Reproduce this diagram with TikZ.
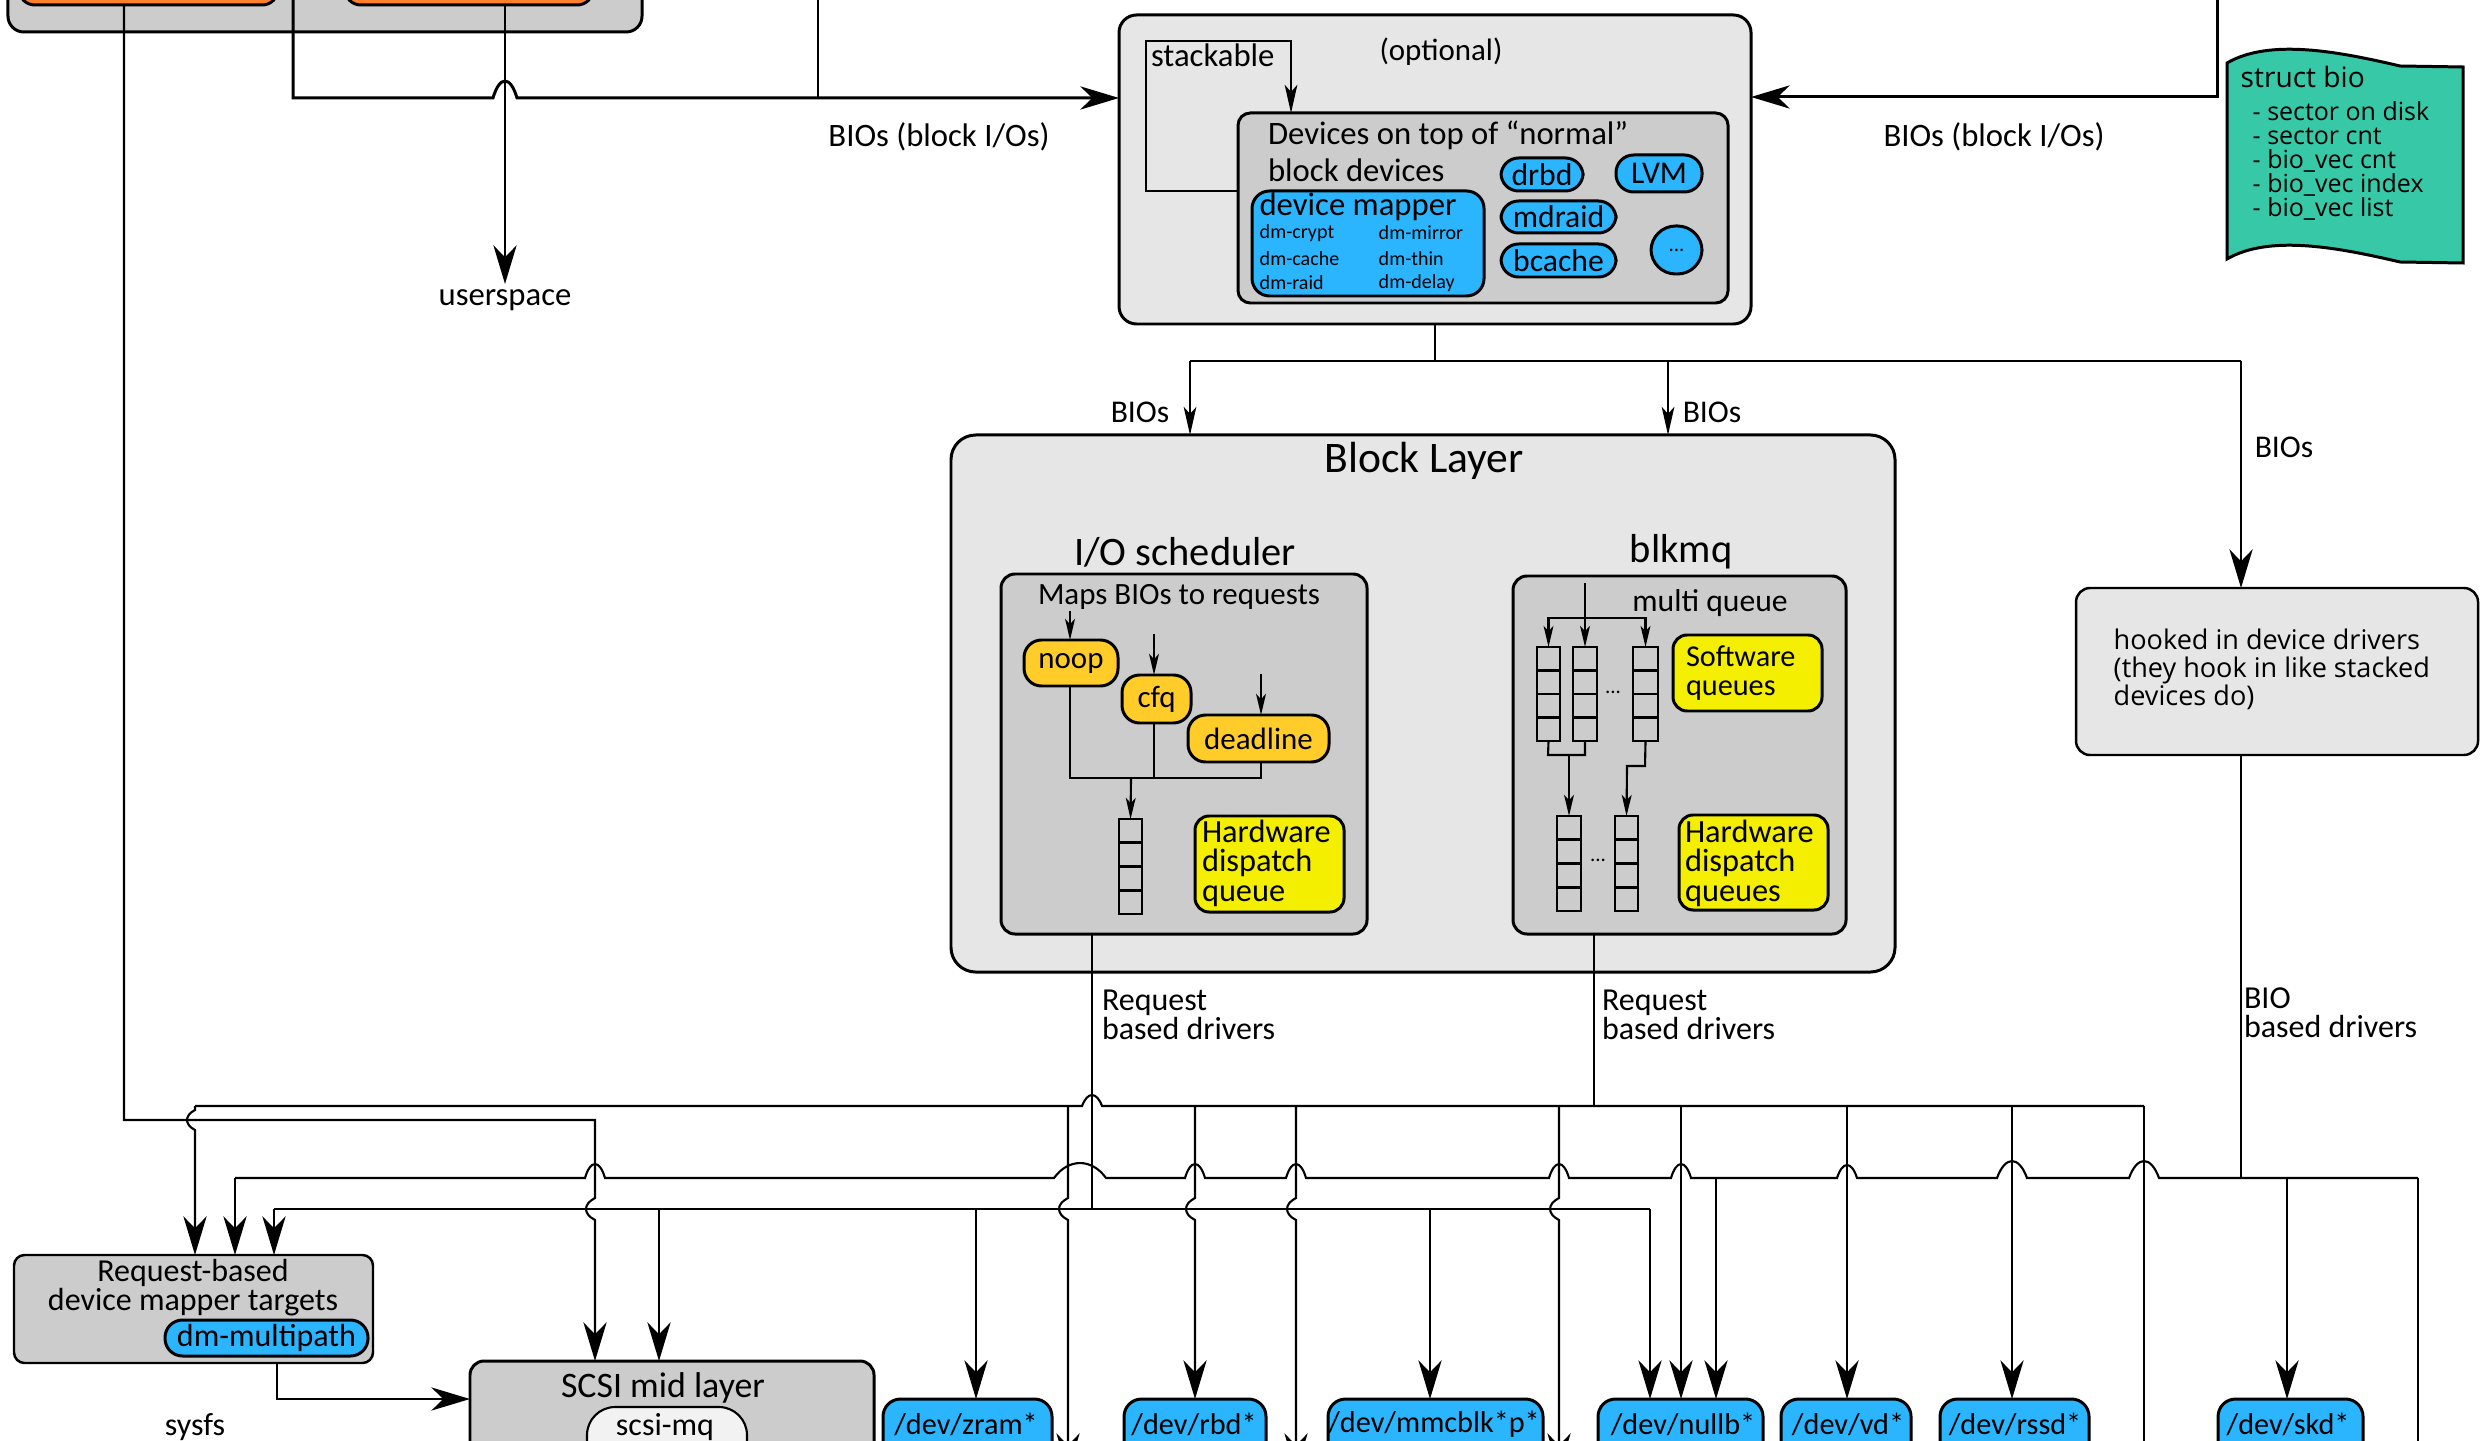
\documentclass[tikz,border=0pt]{standalone}
\usepackage{fontspec}
\setmainfont{Carlito}
\newfontfamily\widefont{Open Sans}
\usetikzlibrary{arrows.meta,calc}

\definecolor{lightgrey}{HTML}{E6E6E6}
\definecolor{midgrey}{HTML}{CCCCCC}
\definecolor{devblue}{HTML}{2BB5FF}
\definecolor{schedgold}{HTML}{FFCC2A}
\definecolor{hwyellow}{HTML}{F4EF00}
\definecolor{orng}{HTML}{FF7F2A}
\definecolor{biogreen}{HTML}{37C8A7}
\definecolor{mqwhite}{HTML}{F2F2F2}

\newcommand\fs[2]{\fontsize{#1}{#2}\selectfont}

% box given by its corners (x1,y1) (x2,y2) in pixel units
\newcommand\mkbox[7]{%
  \pgfmathsetmacro\bxw{(#5-#3)*0.01}%
  \pgfmathsetmacro\bxh{(#6-#4)*0.01}%
  \pgfmathsetmacro\bxx{(#3+#5)/2}%
  \pgfmathsetmacro\bxy{(#4+#6)/2}%
  \node[#2, minimum width=\bxw cm, minimum height=\bxh cm] (#1) at (\bxx,\bxy) {#7};}

% line jumps: horizontal line hopping up, vertical line bulging left
\newcommand\hhop[4]{-- ({#1-#3},#2) .. controls ({#1-0.45*#3},{#2-1.33*#4}) and ({#1+0.45*#3},{#2-1.33*#4}) .. ({#1+#3},#2)}
\newcommand\vhop[4]{-- (#1,{#2-#3}) .. controls ({#1-1.33*#4},{#2-0.45*#3}) and ({#1-1.33*#4},{#2+0.45*#3}) .. (#1,{#2+#3})}

% queue dividers
\newcommand\qdiv[1]{\foreach \k in {1,2,3}
  \draw[line width=0.75pt] ($(#1.north west)!\k/4!(#1.south west)$) -- ($(#1.north east)!\k/4!(#1.south east)$);}

\tikzset{
  panel/.style={draw, line width=0.85pt, rectangle, rounded corners=4.5pt, inner sep=0pt, outer sep=0pt},
  pill/.style={panel, fill=devblue, rounded corners=5pt, font=\fs{9}{10}},
  gold/.style={panel, fill=schedgold, rounded corners=5pt, font=\fs{8.8}{10}},
  hw/.style={panel, fill=hwyellow, rounded corners=4pt},
  qcell/.style={draw, line width=0.5pt, fill=midgrey, rectangle, inner sep=0pt, outer sep=0pt},
  conn/.style={line width=0.6pt},
  thickconn/.style={line width=0.85pt},
  tipbig/.style={-{Stealth[length=11pt,width=6.6pt,inset=3.4pt]}},
  tipmid/.style={-{Stealth[length=8pt,width=3.6pt,inset=2pt]}},
  tipsml/.style={-{Stealth[length=6pt,width=2.8pt,inset=1.5pt]}},
  lbl/.style={inner sep=0pt, outer sep=0pt, font=\fs{9.1}{8.3}, align=left},
  title/.style={inner sep=0pt, font=\fs{11.5}{13}},
  dmtxt/.style={inner sep=0pt, anchor=west, font=\fs{5.7}{6.5}},
}

\begin{document}
\begin{tikzpicture}[x=0.01cm,y=-0.01cm]
\useasboundingbox (0,0) rectangle (2483,1440);
\clip (0,0) rectangle (2483,1440);

% ---------- applications (top left) ----------
\mkbox{apps}{panel, fill=midgrey}{8}{-60}{642}{32}{}
\mkbox{appA}{panel, fill=orng}{19}{-60}{278}{5}{}
\mkbox{appB}{panel, fill=orng}{345}{-60}{593}{5}{}

% ---------- stacked devices ----------
\mkbox{opt}{panel, fill=lightgrey, rounded corners=5pt}{1119}{15}{1751}{324}{}
\mkbox{stk}{panel, fill=midgrey, rounded corners=3.5pt}{1238}{113}{1728}{303}{}
\draw[conn, tipmid] (stk.west |- 0,191) -- (1146,191) -- (1146,41) -- (1291,41) -- (stk.north -| 1291,0);
\node[lbl, anchor=west, font=\fs{9.3}{10}] (stacklbl) at (1151,55) {stackable};
\node[lbl, font=\fs{8.8}{10}] (optlbl) at (1441,52) {(optional)};
\node[lbl, anchor=west, font=\fs{9.3}{10.6}] (ontop) at (1268,151) {Devices on top of “normal”\\block devices};
\mkbox{dm}{pill}{1252}{191}{1484}{296}{}
\node[lbl, font=\fs{9.3}{10}] (dmlbl) at (1358,207) {device mapper};
\node[dmtxt] (dmcrypt) at (1259,233) {dm-crypt};
\node[dmtxt] (dmmirror) at (1378,233) {dm-mirror};
\node[dmtxt] (dmcache) at (1259,259) {dm-cache};
\node[dmtxt] (dmthin) at (1378,259) {dm-thin};
\node[dmtxt] (dmraid) at (1259,283) {dm-raid};
\node[dmtxt] (dmdelay) at (1378,283) {dm-delay};
\mkbox{drbd}{pill}{1501}{158}{1583}{191}{drbd}
\mkbox{lvm}{pill}{1616}{155}{1702}{192}{LVM}
\mkbox{mdraid}{pill}{1501}{201}{1616}{233}{mdraid}
\mkbox{bcache}{pill}{1501}{244}{1616}{277}{bcache}
\mkbox{more}{pill, rounded corners=7pt, font=\fs{6}{7}}{1651}{226}{1702}{274}{...}

% ---------- struct bio ----------
\draw[line width=0.85pt, fill=biogreen] (2227,63) .. controls (2270,38) and (2340,52) .. (2400,66) -- (2463,67)
  -- (2463,263) -- (2400,262) .. controls (2340,248) and (2270,234) .. (2227,259) -- cycle;
\node[inner sep=0pt, anchor=west, font=\widefont\fs{8}{9}] (biotitle) at (2240,77) {struct bio};
\node[inner sep=0pt, anchor=west, align=left, font=\widefont\fs{7.1}{6.8}] (biofields) at (2252,161)
  {- sector on disk\\- sector cnt\\- bio\_vec cnt\\- bio\_vec index\\- bio\_vec list};

% ---------- top connectors ----------
\node[lbl, font=\fs{9.3}{10}] (userspace) at (505,300) {userspace};
\draw[thickconn, tipbig] (293,-20) -- (293,98) \hhop{505}{98}{12}{17} -- (opt.west |- 0,98);
\draw[conn] (818,-20) -- (818,98);
\draw[conn, tipbig] (appB.south -| 505,0) -- (505,284);
\draw[thickconn, tipbig] (2217,-20) -- (2217,97) -- (opt.east |- 0,97);
\node[lbl, font=\fs{9.3}{10}] (biosL) at (939,137) {BIOs (block I/Os)};
\node[lbl, font=\fs{9.3}{10}] (biosR) at (1994,137) {BIOs (block I/Os)};

% ---------- block layer ----------
\mkbox{blk}{panel, fill=lightgrey, rounded corners=7pt}{951}{435}{1895}{972}{}
\node[title, font=\fs{12.4}{14}] (blktitle) at (1424,461) {Block Layer};
\node[title] (schedtitle) at (1185,552) {I/O scheduler};
\node[title] (mqtitle) at (1681,552) {blkmq};
\mkbox{iosch}{panel, fill=midgrey, rounded corners=4pt}{1001}{574}{1367}{934}{}
\mkbox{mq}{panel, fill=midgrey, rounded corners=4pt}{1513}{576}{1846}{934}{}

% I/O scheduler internals
\node[lbl, font=\fs{8.8}{10}] (maps) at (1179,597) {Maps BIOs to requests};
\mkbox{noop}{gold}{1024}{640}{1118}{686}{noop}
\mkbox{cfq}{gold}{1122}{675}{1191}{723}{cfq}
\mkbox{deadline}{gold}{1188}{715}{1329}{762}{deadline}
\draw[conn, tipsml] (1070,611) -- (noop.north -| 1070,0);
\draw[conn, tipsml] (1154,634) -- (cfq.north -| 1154,0);
\draw[conn, tipsml] (1261,674) -- (deadline.north -| 1261,0);
\draw[conn] (noop.south -| 1070,0) -- (1070,778) -- (1261,778) -- (deadline.south -| 1261,0);
\draw[conn] (cfq.south -| 1154,0) -- (1154,778);
\mkbox{ioq}{qcell}{1119}{819}{1142}{914}{}
\qdiv{ioq}
\draw[conn, tipsml] (1131,778) -- (ioq.north);
\mkbox{hwd}{hw}{1195}{816}{1344}{912}{}
\node[lbl, anchor=west, font=\fs{9.2}{8.4}] (hwdlbl) at (1202,863) {Hardware\\dispatch\\queue};

% blk-mq internals
\node[lbl, font=\fs{9}{10}] (mqlbl) at (1710,603) {multi queue};
\mkbox{swq1}{qcell}{1537}{647}{1560}{741}{}
\mkbox{swq2}{qcell}{1573}{647}{1597}{741}{}
\mkbox{swq3}{qcell}{1633}{647}{1658}{741}{}
\qdiv{swq1}\qdiv{swq2}\qdiv{swq3}
\node[lbl, font=\fs{6}{7}] (swdots) at (1613,692) {...};
\draw[conn, tipsml] (1585,583) -- (swq2.north);
\draw[conn, tipsml] (1585,618) -| (swq1.north);
\draw[conn, tipsml] (1585,618) -| (swq3.north);
\mkbox{swl}{hw}{1673}{635}{1822}{711}{}
\node[lbl, anchor=west, font=\fs{8.6}{8.4}] (swllbl) at (1686,673) {Software\\queues};
\mkbox{hwq1}{qcell}{1557}{816}{1581}{911}{}
\mkbox{hwq2}{qcell}{1615}{816}{1638}{911}{}
\qdiv{hwq1}\qdiv{hwq2}
\node[lbl, font=\fs{6}{7}] (hwdots) at (1598,860) {...};
\draw[conn] (swq1.south) -- (1548,755) -- (1585,755) -- (swq2.south);
\draw[conn, tipsml] (1569,755) -- (hwq1.north);
\draw[conn, tipsml] (swq3.south) -- (1645,766) -- (1627,766) -- (hwq2.north);
\mkbox{hwl}{hw}{1679}{815}{1828}{910}{}
\node[lbl, anchor=west, font=\fs{9.2}{8.4}] (hwllbl) at (1685,863) {Hardware\\dispatch\\queues};

% ---------- split of BIOs ----------
\draw[conn] (opt.south -| 1435,0) -- (1435,361);
\draw[conn] (1190,361) -- (2241,361);
\draw[conn, tipmid] (1190,361) -- (blk.north -| 1190,0);
\draw[conn, tipmid] (1668,361) -- (blk.north -| 1668,0);
\node[lbl, font=\fs{9}{10}] (biosA) at (1140,412) {BIOs};
\node[lbl, font=\fs{9}{10}] (biosB) at (1712,412) {BIOs};
\node[lbl, font=\fs{9}{10}] (biosC) at (2284,447) {BIOs};

% ---------- hooked drivers ----------
\mkbox{hook}{panel, fill=lightgrey, line width=0.7pt, rounded corners=4pt}{2076}{588}{2478}{755}{}
\draw[conn, tipbig] (2241,361) -- (hook.north -| 2241,0);
\node[inner sep=0pt, anchor=west, align=left, font=\widefont\fs{7.7}{8}] (hooklbl) at (2113,669)
  {hooked in device drivers\\(they hook in like stacked\\devices do)};

% ---------- driver labels ----------
\node[lbl, anchor=west] (rqA) at (1102,1015) {Request\\based drivers};
\node[lbl, anchor=west] (rqB) at (1602,1015) {Request\\based drivers};
\node[lbl, anchor=west] (bioD) at (2244,1013) {BIO\\based drivers};

% ---------- bottom targets ----------
\mkbox{rqdm}{panel, fill=midgrey, line width=0.7pt, rounded corners=3pt}{14}{1255}{373}{1363}{}
\node[lbl, align=center] (rqdmlbl) at (193,1288) {Request-based\\device mapper targets};
\mkbox{mpath}{pill, font=\fs{9.1}{10}}{165}{1320}{368}{1356}{dm-multipath}
\node[lbl] (sysfs) at (195,1427) {sysfs};
\mkbox{scsi}{panel, fill=midgrey, rounded corners=4pt}{470}{1361}{874}{1490}{}
\node[lbl, font=\fs{10.2}{11}] (scsilbl) at (663,1388) {SCSI mid layer};
\mkbox{scsimq}{panel, fill=mqwhite, line width=0.6pt, rounded corners=8pt}{587}{1407}{747}{1480}{}
\node[lbl] (scsimqlbl) at (665,1427) {scsi-mq};

\mkbox{zram}{pill}{883}{1399}{1052}{1490}{}
\mkbox{rbd}{pill}{1124}{1399}{1266}{1490}{}
\mkbox{mmc}{pill}{1328}{1399}{1543}{1490}{}
\mkbox{nullb}{pill}{1598}{1399}{1763}{1490}{}
\mkbox{vd}{pill}{1781}{1399}{1911}{1490}{}
\mkbox{rssd}{pill}{1940}{1399}{2089}{1490}{}
\mkbox{skd}{pill}{2218}{1399}{2363}{1490}{}
\node[lbl, font=\fs{8.6}{10}] (zramlbl) at (966,1424) {/dev/zram*};
\node[lbl, font=\fs{8.6}{10}] (rbdlbl) at (1194,1424) {/dev/rbd*};
\node[lbl, font=\fs{8.6}{10}] (mmclbl) at (1434,1424) {/dev/mmcblk*p*};
\node[lbl, font=\fs{8.6}{10}] (nullblbl) at (1683,1424) {/dev/nullb*};
\node[lbl, font=\fs{8.6}{10}] (vdlbl) at (1848,1424) {/dev/vd*};
\node[lbl, font=\fs{8.6}{10}] (rssdlbl) at (2015,1424) {/dev/rssd*};
\node[lbl, font=\fs{8.6}{10}] (skdlbl) at (2288,1424) {/dev/skd*};

% ---------- request / bio distribution buses ----------
\draw[conn] (iosch.south -| 1092,0) -- (1092,1209);
\draw[conn] (mq.south -| 1594,0) -- (1594,1106);
\draw[conn] (hook.south -| 2241,0) -- (2241,1178);

% bus fed by blk-mq
\draw[conn] (195,1106) \hhop{1092}{1106}{10}{11} -- (2144,1106);
% bus fed by bio based drivers
\draw[conn] (235,1178) \hhop{595}{1178}{10}{14} \hhop{1080}{1178}{26}{15} \hhop{1195}{1178}{10}{14}
  \hhop{1296}{1178}{10}{14} \hhop{1559}{1178}{10}{14} \hhop{1681}{1178}{10}{14} \hhop{1847}{1178}{10}{13}
  \hhop{2012}{1178}{15}{17} \hhop{2144}{1178}{15}{17} -- (2418,1178);
% bus fed by the I/O scheduler
\draw[conn] (274,1209) -- (1650,1209);

% line from the applications to the SCSI layer
\draw[conn, tipbig] (appA.south -| 124,0) -- (124,1120) -- (595,1120) \vhop{595}{1209}{11}{9} -- (scsi.north -| 595,0);

% drops
\draw[conn, tipbig] (195,1106) \vhop{195}{1120}{10}{8} -- (rqdm.north -| 195,0);
\draw[conn, tipbig] (235,1178) -- (rqdm.north -| 235,0);
\draw[conn, tipbig] (274,1209) -- (rqdm.north -| 274,0);
\draw[conn, tipbig] (659,1209) -- (scsi.north -| 659,0);
\draw[conn, tipbig] (976,1209) -- (zram.north -| 976,0);
\draw[conn, tipbig] (1068,1106) \vhop{1068}{1209}{11}{9} -- (1068,1472);
\draw[conn, tipbig] (1195,1106) \vhop{1195}{1209}{11}{9} -- (rbd.north -| 1195,0);
\draw[conn, tipbig] (1296,1106) \vhop{1296}{1209}{11}{9} -- (1296,1472);
\draw[conn, tipbig] (1430,1209) -- (mmc.north -| 1430,0);
\draw[conn, tipbig] (1559,1106) \vhop{1559}{1209}{11}{9} -- (1559,1472);
\draw[conn, tipbig] (1650,1209) -- (nullb.north -| 1650,0);
\draw[conn, tipbig] (1681,1106) -- (nullb.north -| 1681,0);
\draw[conn, tipbig] (1716,1178) -- (nullb.north -| 1716,0);
\draw[conn, tipbig] (1847,1106) -- (vd.north -| 1847,0);
\draw[conn, tipbig] (2012,1106) -- (rssd.north -| 2012,0);
\draw[conn, tipbig] (2144,1106) -- (2144,1480);
\draw[conn, tipbig] (2287,1178) -- (skd.north -| 2287,0);
\draw[conn, tipbig] (2418,1178) -- (2418,1480);

% request based dm targets feed the SCSI layer
\draw[conn, tipbig] (rqdm.south -| 277,0) -- (277,1399) -- (scsi.west |- 0,1399);
\end{tikzpicture}
\end{document}
